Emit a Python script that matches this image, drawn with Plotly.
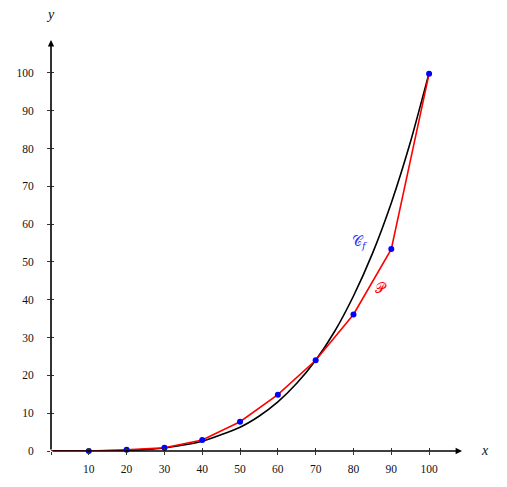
import plotly.graph_objects as go

# values
curve_x = [0, 10, 20, 30, 40, 50, 55, 60, 65, 70, 75, 80, 85, 90, 95, 100]
curve_y = [0, 0.01, 0.16, 0.8, 2.6, 6.3, 9.2, 13.0, 17.9, 24.0, 31.6, 41.0, 52.2, 65.6, 81.5, 100]

poly_x = [0, 10, 20, 30, 40, 50, 60, 70, 80, 90, 100]
poly_y = [0, 0.0, 0.35, 0.85, 2.9, 7.75, 14.9, 24.0, 36.1, 53.4, 99.8]

tick_vals = [10, 20, 30, 40, 50, 60, 70, 80, 90, 100]
ytick_vals = [0, 10, 20, 30, 40, 50, 60, 70, 80, 90, 100]

XMAX = 108.7
YMAX = 108.7
FONT = "Liberation Serif"

fig = go.Figure()

fig.add_trace(go.Scatter(
    x=curve_x, y=curve_y, mode="lines",
    line=dict(color="black", width=1.6, shape="spline", smoothing=0.6),
    showlegend=False, cliponaxis=False,
))
fig.add_trace(go.Scatter(
    x=poly_x, y=poly_y, mode="lines",
    line=dict(color="red", width=1.6),
    showlegend=False, cliponaxis=False,
))
fig.add_trace(go.Scatter(
    x=poly_x[1:], y=poly_y[1:], mode="markers",
    marker=dict(color="blue", size=6),
    showlegend=False, cliponaxis=False,
))

# ticks that cross the axis: outside on the main axes, inside on overlay axes
axis_common = dict(showgrid=False, zeroline=False, showline=False,
                   tickcolor="#333", tickwidth=0.8, ticklen=3,
                   automargin=False)

fig.update_layout(
    width=507, height=487,
    margin=dict(l=51, r=45, t=40, b=36),
    plot_bgcolor="white", paper_bgcolor="white",
    font=dict(family=FONT, size=11.5, color="#111"),
    xaxis=dict(range=[0, XMAX], tickvals=[0] + tick_vals,
               ticktext=[""] + [str(v) for v in tick_vals],
               ticks="outside", ticklabelstandoff=4, **axis_common),
    yaxis=dict(range=[0, YMAX], tickvals=ytick_vals, ticks="outside",
               ticklabelstandoff=11, **axis_common),
    xaxis2=dict(range=[0, XMAX], overlaying="x", tickvals=[0] + tick_vals,
                showticklabels=False, ticks="inside", **axis_common),
    yaxis2=dict(range=[0, YMAX], overlaying="y", tickvals=ytick_vals,
                showticklabels=False, ticks="inside", **axis_common),
)

# axis lines with arrow heads
for ex, ey in [(XMAX, 0), (0, YMAX)]:
    fig.add_annotation(x=ex, y=ey, ax=0, ay=0, xref="x", yref="y",
                       axref="x", ayref="y", text="", showarrow=True,
                       arrowhead=2, arrowsize=0.8, arrowwidth=1.6,
                       arrowcolor="black")

# axis names, placed in paper units just past the arrow tips
fig.add_annotation(x=(485 - 51) / 411, y=(487 - 36 - 450) / 411,
                   xref="paper", yref="paper", text="<i>x</i>",
                   xanchor="center", yanchor="middle",
                   showarrow=False, font=dict(size=14, family=FONT))
fig.add_annotation(x=(50 - 51) / 411, y=(487 - 36 - 15) / 411,
                   xref="paper", yref="paper", text="<i>y</i>",
                   xanchor="center", yanchor="middle",
                   showarrow=False, font=dict(size=14, family=FONT))
fig.add_annotation(x=81.8, y=55.3, text="𝒞<sub><i>f</i></sub>", showarrow=False,
                   font=dict(size=14, color="#3030ff", family="DejaVu Serif"))
fig.add_annotation(x=87.2, y=43.0, text="𝒫", showarrow=False,
                   font=dict(size=14, color="red", family="DejaVu Serif"))

# dummy trace to activate overlay axes
fig.add_trace(go.Scatter(x=[None], y=[None], xaxis="x2", yaxis="y2",
                         showlegend=False))

fig.write_html("out.html", config={"displayModeBar": False},
               post_script="document.body.style.margin='0';")
